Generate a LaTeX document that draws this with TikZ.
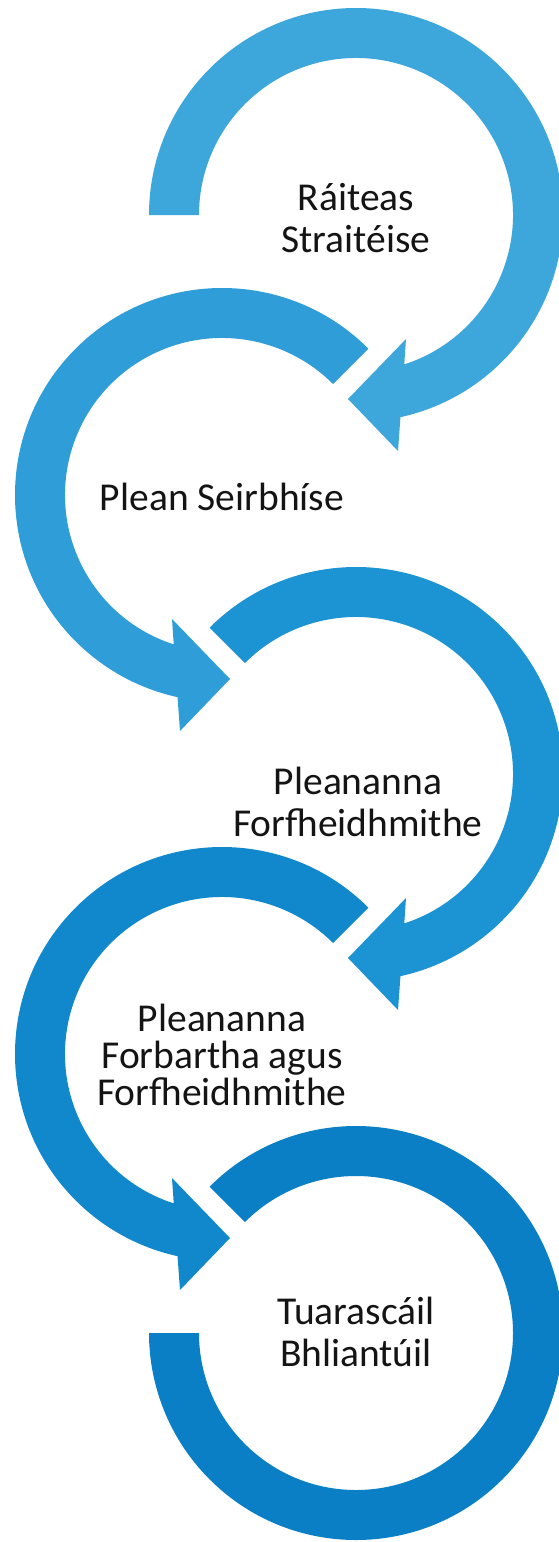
\documentclass[tikz,border=0pt]{standalone}
\usepackage{fontspec}
\setmainfont{Carlito}
\definecolor{cA}{HTML}{3DA6DA}
\definecolor{cB}{HTML}{2E9DD8}
\definecolor{cC}{HTML}{1C93D3}
\definecolor{cD}{HTML}{1188CC}
\definecolor{cE}{HTML}{0A7FC5}
\definecolor{txt}{HTML}{141414}
% right-hand ring: clockwise, arrowhead at the bottom pointing left
\newcommand\ringRightArrow[4]{%
  \fill[#4, shift={(#1,#2)}] (#3:207) arc[start angle=#3, end angle=-77.6, radius=207]
    -- (42,-236) -- (-8,-184) -- (50,-124) -- (-72.1:157)
    arc[start angle=-72.1, end angle=#3, radius=157] -- cycle;}
% left-hand ring: counter-clockwise, arrowhead at the bottom pointing right
\newcommand\ringLeftArrow[4]{%
  \fill[#4, shift={(#1,#2)}] (#3:207) arc[start angle=#3, end angle=257.6, radius=207]
    -- (-42,-236) -- (8,-184) -- (-50,-124) -- (252.1:157)
    arc[start angle=252.1, end angle=#3, radius=157] -- cycle;}
\begin{document}
\begin{tikzpicture}[x=1pt, y=1pt,
  lbl/.style={align=center, text=txt, inner sep=0pt,
    font=\fontsize{39.5}{42}\selectfont},
  lbltight/.style={lbl, font=\fontsize{39.5}{37}\selectfont}]
\useasboundingbox (0,0) rectangle (558,-1542);
\fill[white] (0,0) rectangle (558,-1542);

\ringRightArrow{356}{-215}{180}{cA}
\ringLeftArrow{222}{-495}{45}{cB}
\ringRightArrow{356}{-774}{135}{cC}
\ringLeftArrow{222}{-1054}{45}{cD}
\fill[cE, shift={(356,-1333)}] (135:207) arc[start angle=135, end angle=-180, radius=207]
  -- (-180:157) arc[start angle=-180, end angle=135, radius=157] -- cycle;

\node[lbl] (t1) at (356,-218) {Ráiteas\\Straitéise};
\node[lbl] (t2) at (222,-497) {Plean Seirbhíse};
\node[lbl] (t3) at (358,-802) {Pleananna\\Forfheidhmithe};
\node[lbltight] (t4) at (222,-1055) {Pleananna\\Forbartha agus\\Forfheidhmithe};
\node[lbl] (t5) at (356,-1332) {Tuarascáil\\Bhliantúil};
\end{tikzpicture}
\end{document}
